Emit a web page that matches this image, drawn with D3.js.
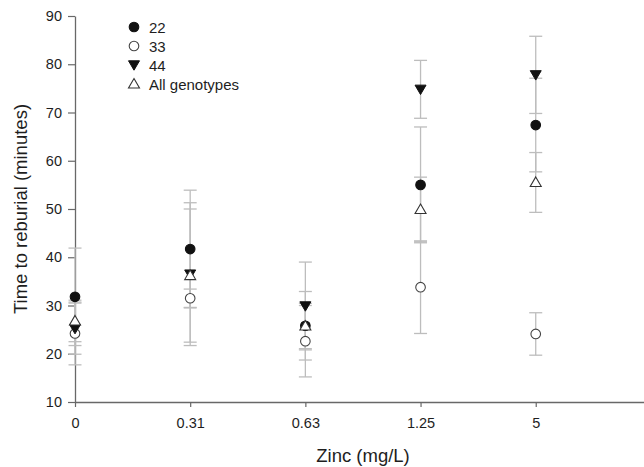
<!DOCTYPE html>
<html><head><meta charset="utf-8">
<script src="https://cdn.jsdelivr.net/npm/d3@7"></script>
<style>html,body{margin:0;padding:0;background:#fff;}svg{display:block;font-family:Arial,"Liberation Sans",sans-serif;}</style>
</head><body><div id="chart"></div>
<script>
const categories = ["0", "0.31", "0.63", "1.25", "5"];
const yTicks = [10, 20, 30, 40, 50, 60, 70, 80, 90];
const seriesNames = ["22", "33", "44", "All genotypes"];
// means
const mean22  = [31.8, 41.7, 25.8, 55.0, 67.4];
const mean33  = [24.2, 31.5, 22.6, 33.8, 24.1];
const mean44  = [25.2, 36.5, 29.9, 74.8, 77.8];
const meanAll = [26.8, 36.2, 25.75, 49.9, 55.5];
// error (±)
const err22  = [10.1, 12.2, 7.1, 12.0, 9.7];
const err33  = [6.5, 1.9, 7.4, 9.6, 4.4];
const err44  = [5.3, 14.8, 9.1, 6.0, 8.0];
const errAll = [4.3, 13.8, 4.7, 6.7, 6.2];

const W = 644, H = 467;
const svg = d3.select("#chart").append("svg").attr("width", W).attr("height", H);

const x = d3.scaleLinear().domain([0, 4.94]).range([75, 644]);
const y = d3.scaleLinear().domain([10, 90]).range([402, 16]);

const axisColor = "#686868", textColor = "#1e1e1e";
const ff = "Arial, 'Liberation Sans', sans-serif";

// axes
const xAxis = svg.append("g").attr("transform", `translate(0,${y(10)})`)
  .call(d3.axisBottom(x).tickValues(d3.range(categories.length)).tickFormat(i => categories[i]).tickSize(5).tickSizeOuter(0).tickPadding(11));
const yAxis = svg.append("g").attr("transform", `translate(${x(0)},0)`)
  .call(d3.axisLeft(y).tickValues(yTicks).tickSize(7).tickSizeOuter(0).tickPadding(6));
[xAxis, yAxis].forEach(g => {
  g.select(".domain").attr("stroke", axisColor).attr("stroke-width", 1.3);
  g.selectAll(".tick line").attr("stroke", axisColor).attr("stroke-width", 1.2);
  g.selectAll(".tick text").attr("fill", textColor).style("font-size", "14.5px").style("font-family", ff);
});

// axis titles
svg.append("text").attr("x", 363).attr("y", 462).attr("text-anchor", "middle")
  .attr("fill", textColor).style("font-size", "18.5px").text("Zinc (mg/L)");
svg.append("text").attr("transform", `translate(27,209) rotate(-90)`).attr("text-anchor", "middle")
  .attr("fill", textColor).style("font-size", "18.5px").text("Time to reburial (minutes)");

const series = [
  {name: seriesNames[0], mean: mean22, err: err22, sym: "circle", fill: "#111", stroke: "#111"},
  {name: seriesNames[1], mean: mean33, err: err33, sym: "circle", fill: "#fff", stroke: "#444"},
  {name: seriesNames[2], mean: mean44, err: err44, sym: "down", fill: "#111", stroke: "#111"},
  {name: seriesNames[3], mean: meanAll, err: errAll, sym: "up", fill: "#fff", stroke: "#333"}
];

// error bars
const eb = svg.append("g").attr("stroke", "#bdbdbd").attr("stroke-width", 1.3).attr("fill", "none");
series.forEach(s => {
  s.mean.forEach((m, i) => {
    const cx = x(i), hi = y(m + s.err[i]), lo = y(m - s.err[i]);
    eb.append("line").attr("x1", cx).attr("x2", cx).attr("y1", hi).attr("y2", lo);
    eb.append("line").attr("x1", cx - 6.5).attr("x2", cx + 6.5).attr("y1", hi).attr("y2", hi);
    eb.append("line").attr("x1", cx - 6.5).attr("x2", cx + 6.5).attr("y1", lo).attr("y2", lo);
  });
});

function drawSym(g, sym, cx, cy, fill, stroke) {
  if (sym === "circle") {
    g.append("circle").attr("cx", cx).attr("cy", cy).attr("r", 4.8).attr("fill", fill).attr("stroke", stroke).attr("stroke-width", 1.1);
  } else if (sym === "down") {
    g.append("path").attr("d", `M${cx-5.5},${cy-4.2}L${cx+5.5},${cy-4.2}L${cx},${cy+5.2}Z`).attr("fill", fill).attr("stroke", stroke).attr("stroke-width", 1);
  } else {
    g.append("path").attr("d", `M${cx},${cy-5.5}L${cx+5.5},${cy+4}L${cx-5.5},${cy+4}Z`).attr("fill", fill).attr("stroke", stroke).attr("stroke-width", 1.1);
  }
}

// markers (All genotypes drawn on top, as in the reference)
const mk = svg.append("g");
[series[1], series[2], series[0], series[3]].forEach(s => {
  s.mean.forEach((m, i) => drawSym(mk, s.sym, x(i), y(m), s.fill, s.stroke));
});

// legend
const lg = svg.append("g");
series.forEach((s, i) => {
  const ly = 27 + i * 19;
  drawSym(lg, s.sym, 134, ly, s.fill, s.stroke);
  lg.append("text").attr("x", 149).attr("y", ly + 5.5).attr("fill", textColor).style("font-size", "15px").text(s.name);
});
</script></body></html>
